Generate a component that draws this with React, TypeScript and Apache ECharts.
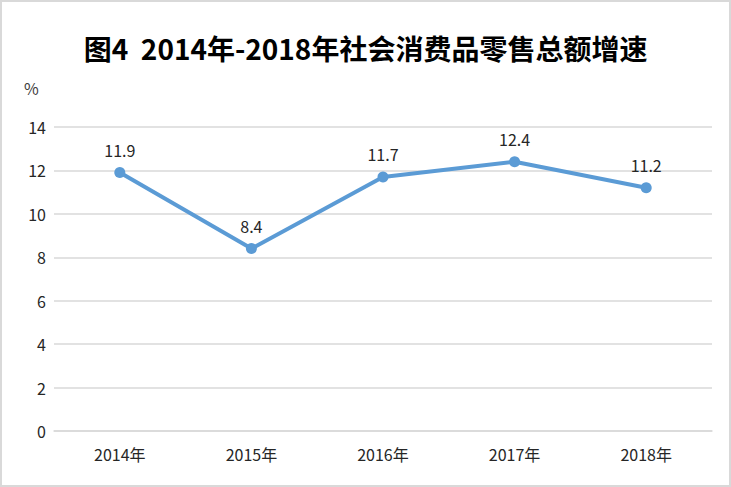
import React, { useEffect, useRef } from "react";
import * as echarts from "echarts";

const categories = ["2014年", "2015年", "2016年", "2017年", "2018年"];
const growth = [11.9, 8.4, 11.7, 12.4, 11.2];
const titleText = "图4  2014年-2018年社会消费品零售总额增速";
const unitLabel = "%";

export default function App() {
  const ref = useRef<HTMLDivElement>(null);
  useEffect(() => {
    if (!ref.current) return;
    const chart = echarts.init(ref.current, null, { renderer: "svg" });
    const font = "'Noto Sans CJK SC', sans-serif";
    chart.setOption({
      animation: false,
      backgroundColor: "#ffffff",
      title: {
        text: titleText,
        left: "center",
        top: 29,
        textStyle: {
          fontFamily: font,
          fontSize: 28,
          fontWeight: "bold",
          color: "#000000",
        },
      },
      graphic: [
        {
          type: "rect",
          shape: { x: 1, y: 1, width: 729, height: 485 },
          style: { fill: "none", stroke: "#D9D9D9", lineWidth: 2 },
          silent: true,
        },
        {
          type: "text",
          left: 24,
          top: 80,
          style: { text: unitLabel, font: "16px " + font, fill: "#404040" },
        },
      ],
      grid: { left: 54, right: 19, top: 127, bottom: 56 },
      xAxis: {
        type: "category",
        data: categories,
        axisLine: { show: true, lineStyle: { color: "#D9D9D9", width: 1.5 } },
        axisTick: { show: false },
        axisLabel: { fontFamily: font, fontSize: 16, color: "#262626", margin: 15 },
      },
      yAxis: {
        type: "value",
        min: 0,
        max: 14,
        interval: 2,
        axisLine: { show: false },
        axisTick: { show: false },
        axisLabel: { fontFamily: font, fontSize: 16, color: "#262626", margin: 8 },
        splitLine: { lineStyle: { color: "#D9D9D9", width: 1.5 } },
      },
      series: [
        {
          type: "line",
          data: growth,
          color: "#5B9BD5",
          lineStyle: { width: 4, color: "#5B9BD5" },
          symbol: "circle",
          symbolSize: 11,
          itemStyle: { color: "#5B9BD5" },
          label: {
            show: true,
            position: "top",
            distance: 9,
            fontFamily: font,
            fontSize: 16,
            color: "#262626",
          },
        },
      ],
    });
    return () => chart.dispose();
  }, []);
  return (
    <div
      ref={ref}
      style={{ position: "fixed", left: 0, top: 0, width: 731, height: 487 }}
    />
  );
}
